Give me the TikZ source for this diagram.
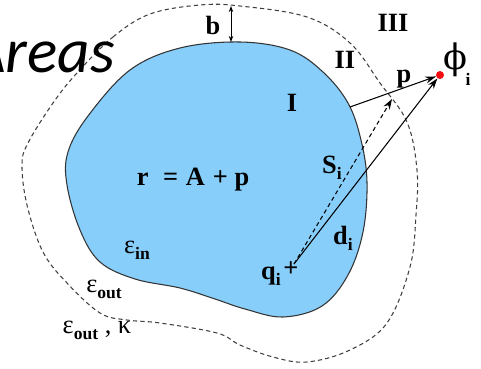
\documentclass[tikz,border=0pt]{standalone}
\usepackage{fontspec}
\setmainfont{Liberation Serif}
\newfontfamily\slidefont{Carlito}
\newfontfamily\greekfont{DejaVu Serif}
\usetikzlibrary{arrows.meta}
\definecolor{blobblue}{HTML}{87CEFA}
\definecolor{redpt}{HTML}{F01010}
\newcommand{\lowsub}[1]{\raisebox{-0.5ex}{\fontsize{10}{10}\selectfont\bfseries #1}}

\begin{document}
\begin{tikzpicture}[
  x=0.02cm,y=-0.02cm,
  lab/.style={inner sep=0pt,font=\fontsize{15}{18}\selectfont\bfseries},
  eps/.style={inner sep=0pt,font=\fontsize{15}{18}\selectfont},
  border/.style={draw=black!80,line width=0.6pt},
  bound/.style={draw=black!75,line width=0.6pt,dash pattern=on 2.4pt off 1.8pt},
  arr/.style={-{Stealth[length=6pt,width=4pt]},line width=0.6pt},
  darr/.style={arr,dash pattern=on 2.4pt off 1.8pt}
]
\clip (0,0) rectangle (481,369);
\fill[white] (0,0) rectangle (481,369);
% molecule (region I)
\filldraw[fill=blobblue,border] plot[smooth cycle,tension=0.6] coordinates {
  (240,42) (290,50) (323,72) (348,103) (361,140) (367,182) (363,232)
  (348,275) (322,306) (283,317) (245,309) (215,299) (180,288) (135,279)
  (100,262) (80,230) (67,185) (68,152) (88,116) (130,70) (180,48)};
% outer boundary of region II
\draw[bound] plot[smooth cycle,tension=0.6] coordinates {
  (77,73) (113,37) (150,14) (200,5) (240,6) (307,17) (350,43) (380,83)
  (407,122) (417,170) (416,215) (410,267) (387,323) (350,350) (307,362)
  (273,357) (240,345) (217,333) (160,323) (127,320) (100,313) (67,283)
  (43,252) (27,205) (22,165) (28,143) (53,103)};

\node[font=\slidefont\itshape\fontsize{36}{40}\selectfont,anchor=base east,inner sep=0pt] (title) at (115,72) {Areas};

% labels
\node[lab] (b) at (213,25) {b};
\node[lab] (r3) at (393,23) {III};
\node[lab] (r2) at (345,60) {II};
\node[lab] (r1) at (292,103) {I};
\node[lab,anchor=base] (plab) at (404,82) {p};
\node[inner sep=0pt,font=\greekfont\fontsize{20}{22}\selectfont] (phi) at (455,60) {ϕ};
\node[inner sep=0pt,font=\fontsize{10}{10}\selectfont\bfseries] (phisub) at (468,79) {i};
\node[lab] (eq) at (193,180) {r\hspace{0.55em}=\hspace{0.3em}A\hspace{0.3em}+\hspace{0.25em}p};
\node[lab] (si) at (332,168) {S\lowsub{i}};
\node[lab] (di) at (343,238) {d\lowsub{i}};
\node[lab] (qi) at (271,276) {q\lowsub{i}};
\node[lab] (qplus) at (291,269) {+};
\node[eps] (ein) at (137,250) {ε\lowsub{in}};
\node[eps] (eout) at (104,289) {ε\lowsub{out}};
\node[eps] (eoutk) at (97,330) {ε\lowsub{out} , κ};

% points and vectors
\coordinate (surf) at (350,107);
\coordinate (qsrc) at (294,264);
\coordinate (pend) at (392,99);
\coordinate (btop) at (231,6);
\coordinate (bbot) at (231,42);
\node[circle,fill=redpt,inner sep=0pt,minimum size=0.16cm] (dot) at (440,75) {};
\draw[arr] (surf) -- (dot);
\draw[arr] (qsrc) -- (dot);
\draw[darr] (qsrc) -- (pend);
\draw[{Stealth[length=3.5pt,width=2.6pt]}-{Stealth[length=3.5pt,width=2.6pt]},line width=0.5pt] (btop) -- (bbot);
\end{tikzpicture}
\end{document}
